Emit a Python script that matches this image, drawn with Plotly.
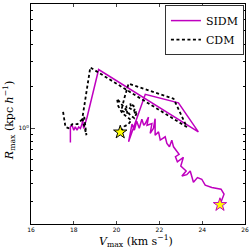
import plotly.graph_objects as go

# SIDM trajectory (Vmax [km/s], Rmax [kpc/h])
sidm_v = [17.84, 17.84, 17.92, 18.00, 18.07, 18.15, 18.23, 18.31, 18.39, 18.41, 18.46, 18.54, 18.62,
          19.16, 23.82, 22.89, 21.34, 20.56, 20.72, 20.83, 20.94, 21.06, 21.18, 21.27, 21.34, 21.49,
          21.42, 21.65, 21.57, 21.72, 21.80, 21.80, 21.96, 22.04, 22.27, 22.35, 22.47, 22.58, 22.66,
          22.92, 22.75, 22.84, 23.12, 23.00, 23.25, 23.05, 23.28, 23.44, 23.59, 23.78, 23.98, 24.14,
          24.45, 24.88, 25.02, 24.83]
sidm_r = [0.790, 1.022, 1.05, 0.968, 1.022, 0.968, 1.022, 0.995, 1.08, 1.17, 0.995, 1.11, 1.20,
          2.64, 0.941, 1.52, 1.75, 0.798, 1.07, 0.968, 1.12, 1.0, 1.16, 1.05, 1.08, 1.20,
          1.05, 1.08, 0.917, 0.995, 1.17, 0.891, 0.941, 0.821, 0.867, 0.777, 0.735, 0.821, 0.735,
          0.649, 0.624, 0.574, 0.618, 0.535, 0.493, 0.454, 0.464, 0.493, 0.409, 0.442, 0.430, 0.390,
          0.375, 0.365, 0.336, 0.282]

# CDM trajectory
cdm_v = [17.50, 17.56, 17.61, 17.75, 17.93, 18.17, 18.35, 18.49, 18.59, 18.40, 18.77, 23.28, 22.66,
         20.56, 20.36, 20.22, 20.50, 20.45, 20.69, 20.64, 20.87, 20.78, 20.97, 20.83, 20.64, 20.02,
         20.08, 20.27, 20.50, 20.69, 20.55, 20.36, 20.17]
cdm_r = [1.31, 1.10, 1.02, 1.0, 1.07, 1.07, 1.14, 1.20, 0.891, 1.18, 2.73, 1.02, 1.63,
         2.09, 1.64, 1.34, 1.28, 1.44, 1.37, 1.51, 1.41, 1.28, 1.32, 1.18, 1.24, 1.63,
         1.44, 1.28, 1.20, 1.14, 1.07, 1.03, 0.936]

x_ticks = [16, 18, 20, 22, 24, 26]
y_minor = [0.3, 0.4, 0.5, 0.6, 0.7, 0.8, 0.9, 2, 3, 4, 5, 6, 7]

MAG = "#BF00BF"
SERIF = "DejaVu Serif"

fig = go.Figure()
fig.add_trace(go.Scatter(x=sidm_v, y=sidm_r, mode="lines", name="SIDM",
                         line=dict(color=MAG, width=1.5)))
fig.add_trace(go.Scatter(x=cdm_v, y=cdm_r, mode="lines", name="CDM",
                         line=dict(color="black", width=1.8, dash="3px,2.5px")))
fig.add_trace(go.Scatter(x=[sidm_v[-1]], y=[sidm_r[-1]], mode="markers", showlegend=False,
                         marker=dict(symbol="star", size=10, color="yellow",
                                     line=dict(color=MAG, width=1))))
fig.add_trace(go.Scatter(x=[cdm_v[-1]], y=[cdm_r[-1]], mode="markers", showlegend=False,
                         marker=dict(symbol="star", size=10, color="yellow",
                                     line=dict(color="black", width=1))))

fig.update_layout(
    width=252, height=251,
    margin=dict(l=31, r=5, t=3, b=27),
    plot_bgcolor="white", paper_bgcolor="white",
    showlegend=True,
    legend=dict(x=0.995, y=0.995, xanchor="right", yanchor="top",
                bgcolor="white", bordercolor="#333", borderwidth=1,
                font=dict(family=SERIF, size=11, color="black"),
                itemwidth=30, tracegroupgap=0),
    font=dict(family="DejaVu Sans", size=6, color="black"),
    annotations=[
        dict(text="<i>V</i><sub>max</sub> (km s<sup>−1</sup>)", xref="paper", yref="paper",
             x=0.49, y=-0.075, xanchor="center", yanchor="middle", showarrow=False,
             font=dict(family=SERIF, size=11, color="black")),
        dict(text="<i>R</i><sub>max</sub> (kpc <i>h</i><sup>−1</sup>)", xref="paper", yref="paper",
             x=-0.105, y=0.47, xanchor="center", yanchor="middle", showarrow=False,
             textangle=-90, font=dict(family=SERIF, size=11, color="black")),
    ],
)
fig.update_xaxes(range=[16, 26], tickvals=x_ticks, ticks="inside", ticklen=3,
                 showline=True, linecolor="black", linewidth=1, mirror="ticks",
                 showgrid=False, zeroline=False, tickfont=dict(size=6))
fig.update_yaxes(type="log", range=[-0.688, 0.892], tickvals=[1], ticktext=["10<sup>0</sup>"],
                 ticks="inside", ticklen=4,
                 minor=dict(tickmode="array", tickvals=y_minor, ticks="inside", ticklen=2,
                            tickcolor="black", showgrid=False),
                 showline=True, linecolor="black", linewidth=1, mirror="ticks",
                 showgrid=False, zeroline=False, tickfont=dict(size=6))

fig.write_html("out.html", config={"displayModeBar": False},
               post_script="document.body.style.margin='0';document.body.style.padding='0';"
                           "document.body.style.overflow='hidden';")
